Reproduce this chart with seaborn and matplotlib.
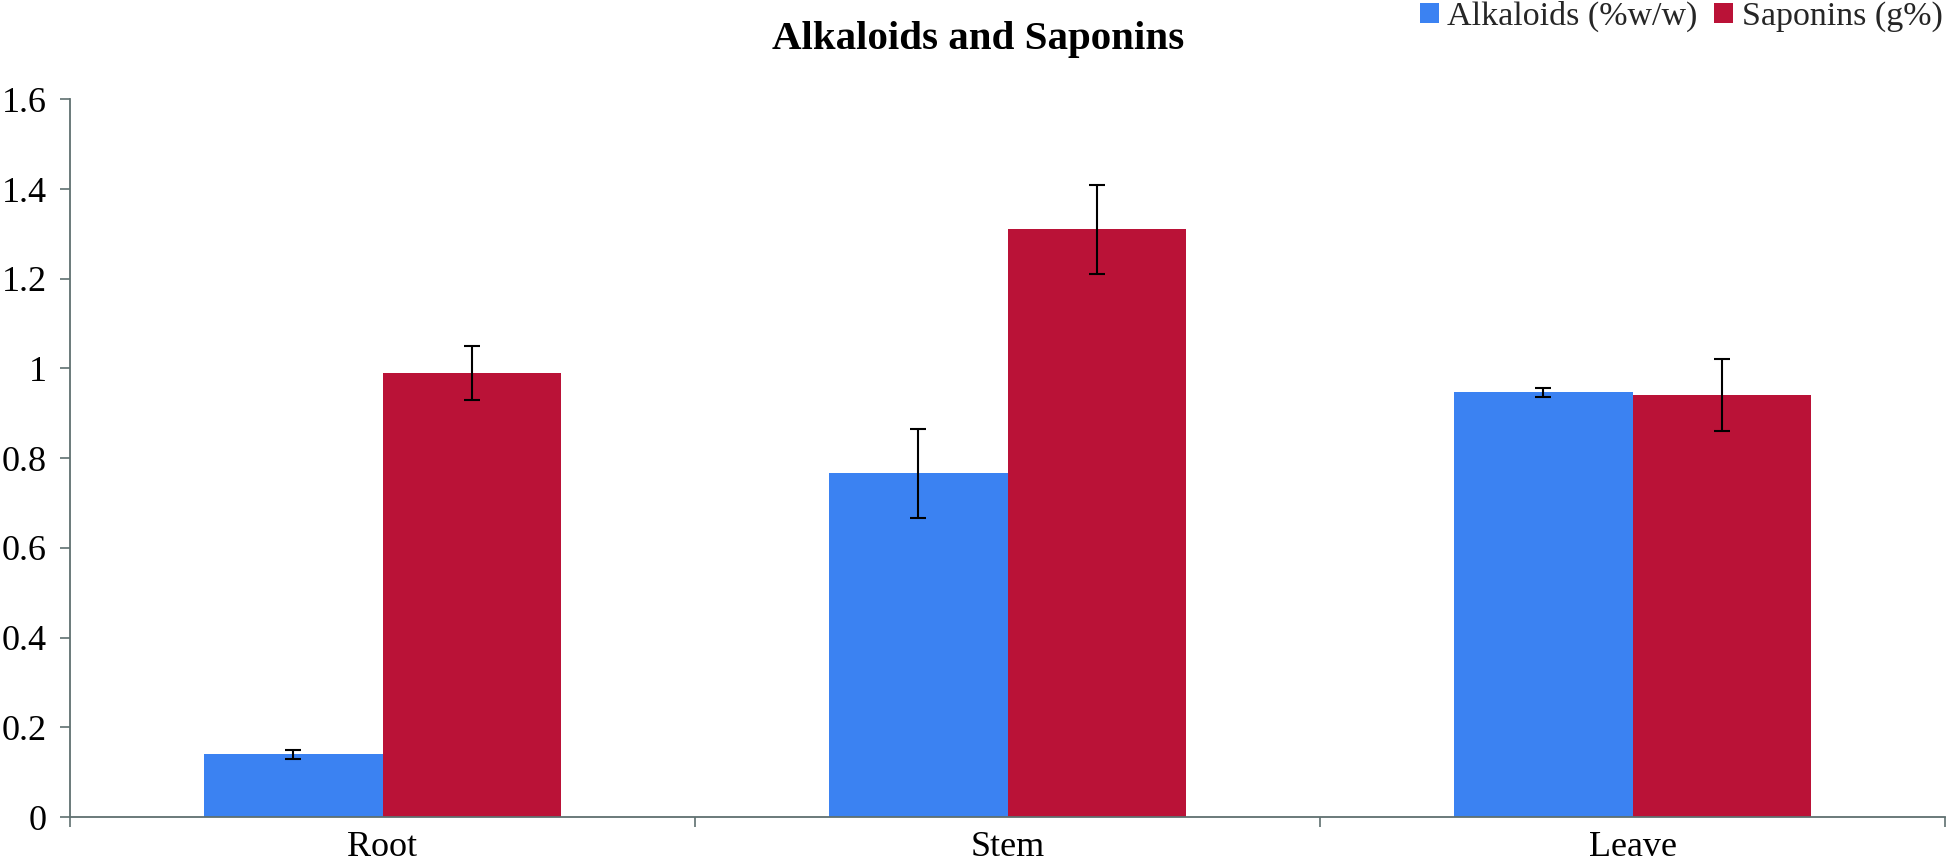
import matplotlib
matplotlib.use("Agg")
import matplotlib.pyplot as plt
import seaborn as sns
import pandas as pd
import numpy as np
from matplotlib.patches import Patch

categories = ["Root", "Stem", "Leave"]
series = ["Alkaloids (%w/w)", "Saponins (g%)"]
alkaloids = [0.14, 0.766, 0.947]
alkaloids_err = [0.01, 0.10, 0.01]
saponins = [0.99, 1.31, 0.94]
saponins_err = [0.06, 0.10, 0.08]
colors = ["#3B82F2", "#BA1237"]

df = pd.DataFrame({
    "part": categories * 2,
    "series": [series[0]] * 3 + [series[1]] * 3,
    "value": alkaloids + saponins,
})

sns.set_theme(style="white")
plt.rcParams["font.family"] = ["Liberation Serif", "DejaVu Serif"]

fig = plt.figure(figsize=(19.46, 8.68), dpi=100)
ax = fig.add_axes([70 / 1946, 1 - 817 / 868, 1875 / 1946, (817 - 99.3) / 868])

sns.barplot(data=df, x="part", y="value", hue="series", order=categories,
            hue_order=series, palette=colors, width=0.57, errorbar=None,
            saturation=1, ax=ax, legend=False, linewidth=0)

errs = {series[0]: alkaloids_err, series[1]: saponins_err}
vals = {series[0]: alkaloids, series[1]: saponins}
for container, s in zip(ax.containers, series):
    xs = [p.get_x() + p.get_width() / 2 for p in container.patches]
    ax.errorbar(xs, vals[s], yerr=errs[s], fmt="none", ecolor="black",
                elinewidth=1.5, capsize=5.8, capthick=1.5, zorder=5)

ax.set_xlim(-0.5, 2.5)
ax.set_ylim(0, 1.6)
ax.set_yticks(np.arange(0, 1.61, 0.2))
ax.set_yticklabels(["0", "0.2", "0.4", "0.6", "0.8", "1", "1.2", "1.4", "1.6"])
ax.set_xlabel("")
ax.set_ylabel("")

spine_color = "#5F7070"
for side in ["top", "right"]:
    ax.spines[side].set_visible(False)
for side in ["left", "bottom"]:
    ax.spines[side].set_color(spine_color)
    ax.spines[side].set_linewidth(1.3)

ax.tick_params(axis="y", which="major", direction="out", length=7.5, width=1.2,
               color=spine_color, labelsize=26, pad=9, left=True)
ax.tick_params(axis="x", which="major", length=0, labelsize=26, pad=10)
ax.set_xticks([-0.5, 0.5, 1.5, 2.5], minor=True)
ax.tick_params(axis="x", which="minor", direction="out", length=7.5, width=1.2,
               color=spine_color, bottom=True)
for lab in ax.get_xticklabels() + ax.get_yticklabels():
    lab.set_color("black")

fig.text(978 / 1946, 1 - 40 / 868, "Alkaloids and Saponins", ha="center",
         va="center", fontsize=29.5, fontweight="bold", color="black")

handles = [Patch(facecolor=c, edgecolor="none") for c in colors]
fig.legend(handles, series, loc="upper right", bbox_to_anchor=(1946 / 1946, 1.003),
           ncol=2, frameon=False, fontsize=24.5, handlelength=0.55, handleheight=0.55,
           handletextpad=0.25, columnspacing=0.5, borderaxespad=0.0, borderpad=0.1)

fig.savefig("out.png", dpi=100)
